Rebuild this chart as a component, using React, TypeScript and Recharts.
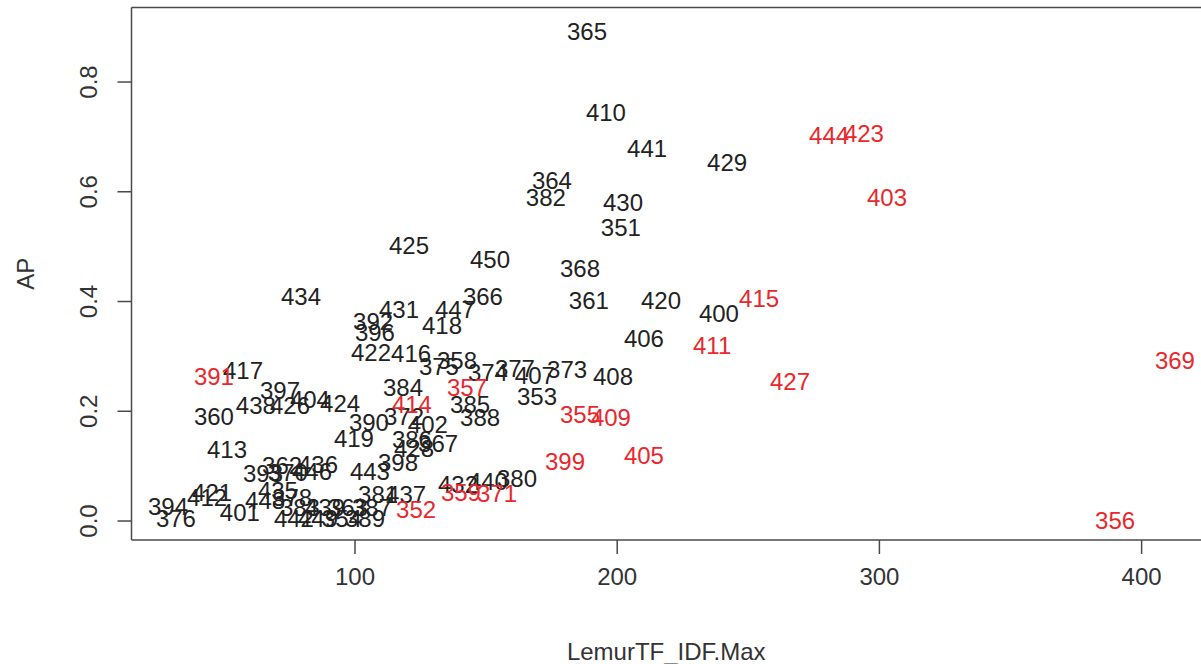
import { Label, ReferenceLine, Scatter, ScatterChart, XAxis, YAxis } from "recharts";

// query ids drawn in black (AP vs LemurTF_IDF.Max)
const blackIds = [
    "365", "410", "441", "429", "364", "382", "430", "351", "425", "450", "368",
    "434", "366", "361", "420", "400", "431", "447", "392", "418", "396", "406",
    "422", "416", "358", "375", "374", "377", "407", "373", "408", "353", "384",
    "385", "388", "417", "397", "404", "438", "426", "424", "360", "390", "372",
    "402", "419", "386", "428", "367", "398", "443", "413", "362", "436", "393",
    "370", "446", "421", "412", "394", "376", "401", "448", "435", "378", "383",
    "439", "363", "387", "442", "449", "354", "389", "381", "437", "432", "440",
    "380",
];
const blackX = [
    188.5, 195.7, 211.4, 241.9, 175.1, 172.8, 202.2, 201.4, 120.6, 151.5, 185.8,
    79.4, 148.8, 189.2, 216.7, 238.8, 116.8, 138.1, 106.9, 133.2, 107.6, 210.2,
    106.1, 121.4, 138.9, 132.0, 150.7, 161.0, 168.6, 180.9, 198.4, 169.4, 118.3,
    143.9, 147.7, 57.3, 71.4, 82.8, 62.2, 75.2, 94.3, 46.2, 105.3, 118.7,
    127.8, 99.6, 121.7, 122.5, 131.7, 116.4, 105.7, 51.2, 72.2, 85.9, 64.9,
    74.4, 83.6, 45.5, 43.6, 28.7, 31.7, 56.1, 65.7, 70.6, 76.0, 79.0,
    88.6, 97.3, 106.5, 76.7, 85.9, 95.0, 103.8, 108.8, 119.5, 139.3, 150.7,
    161.8,
];
const blackY = [
    0.893, 0.744, 0.68, 0.654, 0.621, 0.589, 0.58, 0.536, 0.503, 0.477, 0.461,
    0.41, 0.41, 0.403, 0.403, 0.379, 0.386, 0.385, 0.364, 0.357, 0.343, 0.332,
    0.308, 0.306, 0.292, 0.282, 0.27, 0.279, 0.266, 0.277, 0.264, 0.228, 0.244,
    0.213, 0.188, 0.275, 0.239, 0.222, 0.21, 0.21, 0.215, 0.191, 0.179, 0.191,
    0.177, 0.151, 0.148, 0.133, 0.142, 0.106, 0.091, 0.131, 0.102, 0.104, 0.087,
    0.089, 0.091, 0.053, 0.044, 0.026, 0.005, 0.015, 0.038, 0.055, 0.044, 0.024,
    0.024, 0.024, 0.024, 0.005, 0.005, 0.005, 0.005, 0.049, 0.049, 0.067, 0.073,
    0.077,
];

// query ids drawn in red
const redIds = [
    "391", "444", "423", "403", "415", "411", "369", "427", "357", "414",
    "355", "409", "399", "405", "359", "371", "352", "356",
];
const redX = [
    46.2, 280.8, 294.1, 302.9, 254.1, 236.2, 412.7, 265.9, 142.7, 121.7,
    185.8, 197.6, 180.1, 210.2, 140.4, 154.2, 123.3, 389.9,
];
const redY = [
    0.264, 0.703, 0.707, 0.589, 0.406, 0.321, 0.293, 0.255, 0.244, 0.213,
    0.195, 0.188, 0.109, 0.12, 0.053, 0.051, 0.022, 0.002,
];

const xTicks = [100, 200, 300, 400];
const yTicks = [0, 0.2, 0.4, 0.6, 0.8];

const xDomain: [number, number] = [14.76, 422.65];
const yDomain: [number, number] = [-0.0346, 0.9358];

const blackData = blackIds.map((id, i) => ({ id, x: blackX[i], y: blackY[i] }));
const redData = redIds.map((id, i) => ({ id, x: redX[i], y: redY[i] }));

const AXIS = "#4a4a4a";
const FONT = 24;

function makeLabel(color: string) {
    return (props: any) => (
        <text x={props.cx} y={props.cy} dy="0.36em" textAnchor="middle" fontSize={FONT} fill={color}>
            {props.payload.id}
        </text>
    );
}

function YTick(props: any) {
    const { x, y, payload } = props;
    return (
        <text x={x} y={y} transform={`rotate(-90, ${x}, ${y})`} textAnchor="middle" fontSize={FONT} fill="#333">
            {Number(payload.value).toFixed(1)}
        </text>
    );
}

export default function App() {
    return (
        <div style={{ position: "absolute", left: 0, top: 0, fontFamily: "'Liberation Sans', Arial, sans-serif", background: "#fff" }}>
            <ScatterChart width={1201} height={664} margin={{ top: 7.5, right: 0, bottom: 0, left: 0 }}>
                <XAxis
                    type="number"
                    dataKey="x"
                    domain={xDomain}
                    allowDataOverflow
                    ticks={xTicks}
                    height={124}
                    tickSize={14}
                    tickMargin={14}
                    stroke={AXIS}
                    strokeWidth={1.5}
                    tick={{ fontSize: FONT, fill: "#333" }}
                >
                    <Label value="LemurTF_IDF.Max" position="insideBottom" offset={4.5} fontSize={FONT} fill="#333" />
                </XAxis>
                <YAxis
                    type="number"
                    dataKey="y"
                    domain={yDomain}
                    allowDataOverflow
                    ticks={yTicks}
                    width={131.5}
                    tickSize={14}
                    tickMargin={20.5}
                    stroke={AXIS}
                    strokeWidth={1.5}
                    tick={YTick}
                >
                    <Label
                        content={(p: any) => {
                            const vb = p.viewBox;
                            const cy = vb.y + vb.height / 2;
                            return (
                                <text x={33.6} y={cy} transform={`rotate(-90, 33.6, ${cy})`} textAnchor="middle" fontSize={FONT} fill="#333">
                                    AP
                                </text>
                            );
                        }}
                    />
                </YAxis>
                <ReferenceLine y={yDomain[1]} stroke={AXIS} strokeWidth={1.5} />
                <Scatter data={blackData} shape={makeLabel("#222")} isAnimationActive={false} />
                <Scatter data={redData} shape={makeLabel("#e8282c")} isAnimationActive={false} />
            </ScatterChart>
        </div>
    );
}
